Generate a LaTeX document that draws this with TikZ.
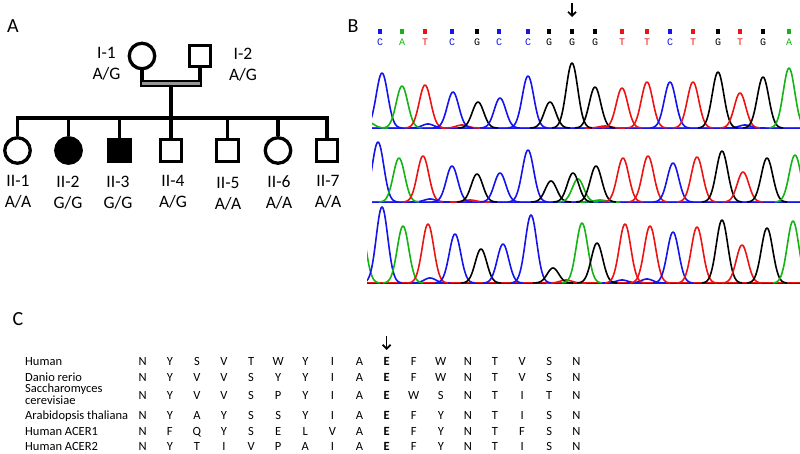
\documentclass[tikz,border=0pt]{standalone}
\usepackage{fontspec}
\setmainfont{Carlito}
\newfontfamily\seqfont{Liberation Mono}
\usetikzlibrary{arrows.meta}

\definecolor{tblue}{RGB}{20,20,235}
\definecolor{tgreen}{RGB}{20,180,20}
\definecolor{tred}{RGB}{235,20,20}
\definecolor{tgray}{RGB}{150,150,150}

\tikzset{
  ped/.style={line width=3.3pt},
  marr/.style={line width=2.5pt, double=tgray, double distance=2.2pt},
  fem/.style={circle, draw, line width=3.3pt, minimum size=25.5pt, inner sep=0pt},
  mal/.style={rectangle, draw, line width=3.3pt, minimum size=21.5pt, inner sep=0pt},
  lab/.style={font=\fontsize{17.5}{21}\selectfont, align=center, anchor=north, inner sep=0pt},
  panel/.style={font=\fontsize{20}{20}\selectfont, inner sep=0pt},
  peak/.style={line width=1.6pt, line join=round},
  seqlet/.style={font=\seqfont\fontsize{10}{10}\selectfont, inner sep=0pt},
  arr/.style={-{Straight Barb[length=4pt, width=8pt]}, line width=1.7pt},
  res/.style={font=\fontsize{12.5}{12.5}\selectfont, anchor=base, inner sep=0pt},
  spec/.style={font=\fontsize{12.5}{10}\selectfont, anchor=base west, align=left, inner sep=0pt},
}

% one chromatogram peak: colour, baseline, centre, height
\newcommand{\pk}[4]{%
  \draw[peak, draw=#1] plot[domain=#3-20:#3+20, samples=41, smooth] (\x, {#2-#4*exp(-((\x-#3)^2)/66)});}

\begin{document}
\begin{tikzpicture}[x=1pt, y=-1pt]
\useasboundingbox (0,0) rectangle (800,453);

% ---- A: pedigree
\node[panel] (pA) at (13,26) {A};

\node[fem] (I1) at (142,56) {};
\node[mal] (I2) at (200,56) {};
\node[lab] (t1) at (106.5,47.5) {I-1\\A/G};
\node[lab] (t2) at (243,47.5) {I-2\\A/G};

\coordinate (mar) at (171,83.5);
\coordinate (marb) at (171,87);
\coordinate (sib) at (171,118);

\node[fem] (c1) at (17.5,150.5) {};
\node[fem, fill=black] (c2) at (68.5,150.5) {};
\node[mal, fill=black] (c3) at (119.5,150.5) {};
\node[mal] (c4) at (171,150.5) {};
\node[mal] (c5) at (227.5,150.5) {};
\node[fem] (c6) at (278,150.5) {};
\node[mal] (c7) at (327,150.5) {};

\draw[ped] (I1) -- (I1 |- marb);
\draw[ped] (I2) -- (I2 |- marb);
\draw[ped] (marb) -- (sib);
\draw[marr] (I1 |- mar) -- (I2 |- mar);
\draw[ped] (c1) |- (c7 |- sib) -- (c7);
\foreach \i in {2,...,6}
  \draw[ped] (c\i) -- (c\i |- sib);

\node[lab] (l1) at (18,175.5) {II-1\\A/A};
\node[lab] (l2) at (68,175.5) {II-2\\G/G};
\node[lab] (l3) at (118,175.5) {II-3\\G/G};
\node[lab] (l4) at (173,175.5) {II-4\\A/G};
\node[lab] (l5) at (228,177) {II-5\\A/A};
\node[lab] (l6) at (279,175.5) {II-6\\A/A};
\node[lab] (l7) at (328,175.5) {II-7\\A/A};

% ---- B: sequencing traces
\node[panel] (pB) at (353,26) {B};

\foreach \bx/\bl/\bc [count=\n] in {380/C/tblue, 402/A/tgreen, 425/T/tred, 452/C/tblue,
    477/G/black, 499/C/tblue, 528/C/tblue, 549/G/black, 572/G/black, 595/G/black,
    622/T/tred, 647/T/tred, 670/C/tblue, 693/T/tred, 718/G/black, 740/T/tred,
    763/G/black, 789/A/tgreen} {
  \fill[fill=\bc] (\bx-1.7,28.5) rectangle (\bx+1.7,33.5);
  \node[seqlet, text=\bc] (b\n) at (\bx,42.7) {\bl};
}
\coordinate (ab1) at (572,3);
\coordinate (ab2) at (572,17);
\draw[arr] (ab1) -- (ab2);

% trace 1
\begin{scope}
\clip (372,50) rectangle (800,131);
\draw[tblue, line width=0.8pt] (372,128.3) -- (800,128.3);
\draw[tred, line width=0.8pt] (372,127.7) -- (800,127.7);
\foreach \pc/\ph/\pcol in {368/6/tgreen, 428/4/tblue, 462/3/tred, 605/2/tred, 745/3/tblue,
    382/55/tblue, 402/42/tgreen, 425/43/tred, 453/36/tblue, 478/26/black, 500/30/tblue,
    528/52/tblue, 550/26/black, 572/65/black, 595/41/black, 622/40/tred, 647/46/tred,
    670/46/tblue, 693/46/tred, 718/56/black, 740/35/tred, 763/51/black, 789/60/tgreen}
  {\pk{\pcol}{128}{\pc}{\ph}}
\end{scope}

% trace 2
\begin{scope}
\clip (372,125) rectangle (800,205);
\draw[tblue, line width=0.8pt] (372,202.3) -- (800,202.3);
\draw[tred, line width=0.8pt] (372,201.7) -- (800,201.7);
\foreach \pc/\ph/\pcol in {430/3/tblue, 470/2/tred, 600/2/tgreen,
    378/60/tblue, 399/44/tgreen, 423/46/tred, 452/36/tblue, 477/28/black, 500/29/tblue,
    528/52/tblue, 551/21/black, 578/23/tgreen, 573/29/black, 596/36/black, 623/44/tred,
    648/46/tred, 673/39/tblue, 697/45/tred, 722/51/black, 743/30/tred, 767/44/black,
    795/47/tgreen}
  {\pk{\pcol}{202}{\pc}{\ph}}
\end{scope}

% trace 3
\begin{scope}
\clip (367,200) rectangle (800,286);
\draw[tblue, line width=0.8pt] (367,283.3) -- (800,283.3);
\draw[tred, line width=0.8pt] (367,282.7) -- (800,282.7);
\foreach \pc/\ph/\pcol in {360/60/tgreen, 430/5/tblue, 566/3/tred, 622/3/tblue, 647/4/tblue,
    382/76/tblue, 403/57/tgreen, 428/59/tred, 455/49/tblue, 481/34/black, 503/39/tblue,
    531/68/tblue, 553/15/black, 582/60/tgreen, 597/40/black, 625/59/tred, 650/57/tred,
    673/51/tblue, 697/56/tred, 722/63/black, 742/38/tred, 767/55/black, 793/62/tgreen}
  {\pk{\pcol}{283}{\pc}{\ph}}
\end{scope}

% ---- C: alignment
\node[panel] (pC) at (18,319) {C};

\coordinate (ac1) at (386.6,336);
\coordinate (ac2) at (386.6,350);
\draw[arr] (ac1) -- (ac2);

\node[spec] (s1) at (25,365.5) {Human};
\node[spec] (s2) at (25,381.5) {Danio rerio};
\node[spec, anchor=west] (s3) at (25,394.5) {Saccharomyces\\cerevisiae};
\node[spec] (s4) at (25,419) {Arabidopsis thaliana};
\node[spec] (s5) at (25,435) {Human ACER1};
\node[spec] (s6) at (25,450.5) {Human ACER2};

\foreach \seq/\ry [count=\r] in {
    {N,Y,S,V,T,W,Y,I,A,E,F,W,N,T,V,S,N}/365.5,
    {N,Y,V,V,S,Y,Y,I,A,E,F,W,N,T,V,S,N}/381.5,
    {N,Y,V,V,S,P,Y,I,A,E,W,S,N,T,I,T,N}/399,
    {N,Y,A,Y,S,S,Y,I,A,E,F,Y,N,T,I,S,N}/419,
    {N,F,Q,Y,S,E,L,V,A,E,F,Y,N,T,F,S,N}/435,
    {N,Y,T,I,V,P,A,I,A,E,F,Y,N,T,I,S,N}/450.5}
  \foreach \aa [count=\k] in \seq
    \node[res] (r\r-\k) at (142.7+27.1*\k-27.1,\ry) {\ifnum\k=10 \bfseries\fi\aa};

\end{tikzpicture}
\end{document}
